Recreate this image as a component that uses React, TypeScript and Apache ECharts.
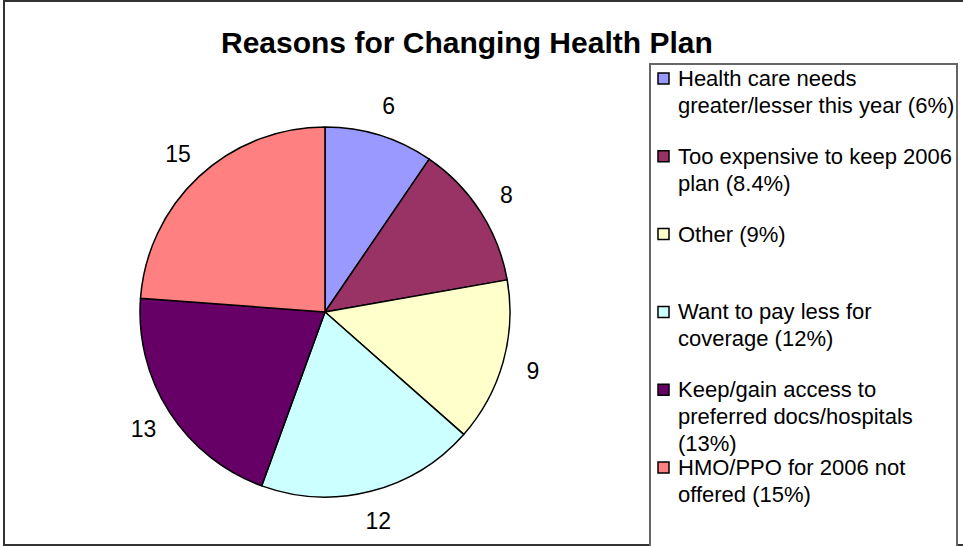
import React, { useEffect, useRef } from "react";
import * as echarts from "echarts";

const categories = [
  "Health care needs\ngreater/lesser this year (6%)",
  "Too expensive to keep 2006\nplan (8.4%)",
  "Other (9%)",
  "Want to pay less for\ncoverage (12%)",
  "Keep/gain access to\npreferred docs/hospitals\n(13%)",
  "HMO/PPO for 2006 not\noffered (15%)",
];
const values = [6, 8, 9, 12, 13, 15];
const colors = ["#9999FF", "#993366", "#FFFFCC", "#CCFFFF", "#660066", "#FF8080"];

const FONT = '"Liberation Sans", Arial, sans-serif';

export default function App() {
  const ref = useRef<HTMLDivElement>(null);
  useEffect(() => {
    if (!ref.current) return;
    const chart = echarts.init(ref.current, null, { renderer: "svg" });
    const data = values.map((v, i) => ({
      value: v,
      name: categories[i],
      itemStyle: { color: colors[i] },
    }));
    const legendEls: any[] = [];
    categories.forEach((c, i) => {
      const top = 65 + i * 77.8;
      legendEls.push({
        type: "rect",
        shape: { x: 658, y: top + 13.5 - 5.5, width: 11, height: 11 },
        style: { fill: colors[i], stroke: "#000", lineWidth: 1.5 },
        z: 10,
      });
      legendEls.push({
        type: "text",
        x: 678,
        y: top,
        style: {
          text: c,
          font: `22px ${FONT}`,
          fill: "#000",
          lineHeight: 27,
          verticalAlign: "top",
          align: "left",
        },
        z: 10,
      });
    });
    chart.setOption({
      animation: false,
      backgroundColor: "#fff",
      title: {
        text: "Reasons for Changing Health Plan",
        left: 216,
        top: 22,
        textStyle: { fontFamily: FONT, fontSize: 30, fontWeight: "bold", color: "#000" },
      },
      graphic: [
        {
          type: "rect",
          shape: { x: 4, y: 1, width: 1000, height: 544 },
          style: { fill: "none", stroke: "#333", lineWidth: 2 },
          z: 0,
        },
        {
          type: "rect",
          shape: { x: 650, y: 64, width: 307, height: 520 },
          style: { fill: "#fff", stroke: "#666", lineWidth: 2 },
          z: 5,
        },
        ...legendEls,
      ],
      series: [
        {
          type: "pie",
          center: [325, 312],
          radius: 185,
          startAngle: 90,
          clockwise: true,
          data,
          label: { show: false },
          labelLine: { show: false },
          itemStyle: { borderColor: "#000", borderWidth: 1.5 },
          emphasis: { disabled: true },
          silent: true,
        },
        {
          type: "pie",
          center: [325, 312],
          radius: [198, 228],
          startAngle: 90,
          clockwise: true,
          data: values.map((v, i) => ({ value: v, name: categories[i] })),
          itemStyle: { color: "rgba(0,0,0,0)", borderWidth: 0 },
          label: {
            show: true,
            position: "inside",
            formatter: (p: any) => String(p.value),
            fontFamily: FONT,
            fontSize: 23,
            color: "#000",
          },
          labelLine: { show: false },
          emphasis: { disabled: true },
          silent: true,
        },
      ],
    });
    return () => chart.dispose();
  }, []);
  return (
    <div
      ref={ref}
      style={{ position: "absolute", left: 0, top: 0, width: 963, height: 546 }}
    />
  );
}
